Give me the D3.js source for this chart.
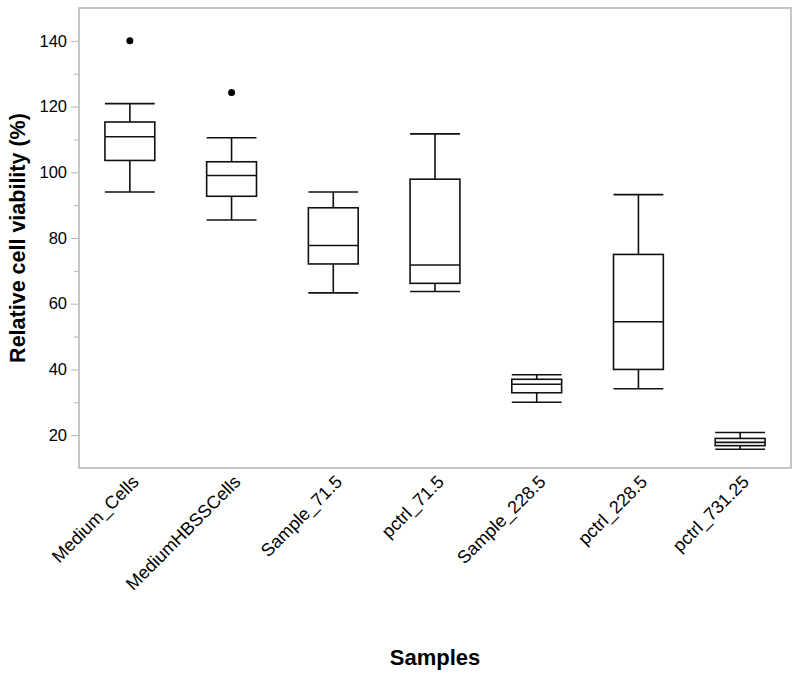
<!DOCTYPE html>
<html>
<head>
<meta charset="utf-8">
<script src="https://cdn.jsdelivr.net/npm/d3@7"></script>
<style>
  html, body { margin: 0; padding: 0; background: #fff; }
  svg { display: block; font-family: "Liberation Sans", Arial, sans-serif; }
</style>
</head>
<body>
<svg id="chart" width="800" height="677"></svg>
<script>
const categories = ["Medium_Cells", "MediumHBSSCells", "Sample_71.5", "pctrl_71.5", "Sample_228.5", "pctrl_228.5", "pctrl_731.25"];
const whiskerLow  = [94.0, 85.5, 63.3, 63.7, 30.0, 34.1, 15.7];
const q1          = [103.6, 92.7, 72.1, 66.2, 32.9, 40.0, 16.8];
const median      = [110.8, 99.0, 77.7, 71.8, 35.5, 54.5, 17.8];
const q3          = [115.3, 103.2, 89.2, 97.9, 37.0, 75.0, 19.0];
const whiskerHigh = [120.9, 110.5, 94.0, 111.7, 38.4, 93.2, 20.8];
const outliers    = [[140.0], [124.3], [], [], [], [], []];
const yTicks = [20, 40, 60, 80, 100, 120, 140];
const yMinorTicks = [30, 50, 70, 90, 110, 130];
const yDomain = [10, 150];

const svg = d3.select("#chart");
const m = { left: 79, top: 8, right: 791, bottom: 468 };

const x = d3.scaleBand().domain(categories).range([m.left, m.right]).paddingInner(0).paddingOuter(0);
const y = d3.scaleLinear().domain(yDomain).range([m.bottom, m.top]);

const data = categories.map((c, i) => ({
  c, lo: whiskerLow[i], q1: q1[i], med: median[i], q3: q3[i], hi: whiskerHigh[i], out: outliers[i]
}));

const axisColor = "#b4b4b4";

// frame
svg.append("rect")
  .attr("x", m.left).attr("y", m.top)
  .attr("width", m.right - m.left).attr("height", m.bottom - m.top)
  .attr("fill", "none").attr("stroke", axisColor).attr("stroke-width", 1.5);

// y axis
const yAxis = svg.append("g").attr("transform", `translate(${m.left},0)`)
  .call(d3.axisLeft(y).tickValues(yTicks).tickSize(8).tickPadding(4).tickFormat(d3.format("d")));
yAxis.select(".domain").remove();
yAxis.selectAll(".tick line").attr("stroke", axisColor).attr("stroke-width", 1);
yAxis.selectAll(".tick text").attr("fill", "#000").attr("font-size", 16.5)
  .attr("font-family", "'Liberation Sans', Arial, sans-serif");

const yMinor = svg.append("g").attr("transform", `translate(${m.left},0)`)
  .call(d3.axisLeft(y).tickValues(yMinorTicks).tickSize(5).tickFormat(""));
yMinor.select(".domain").remove();
yMinor.selectAll(".tick line").attr("stroke", axisColor).attr("stroke-width", 1);

// x axis labels
const xAxis = svg.append("g").attr("transform", `translate(0,${m.bottom})`)
  .call(d3.axisBottom(x).tickSize(0).tickPadding(0));
xAxis.select(".domain").remove();
xAxis.selectAll(".tick text")
  .attr("fill", "#000").attr("font-size", 18)
  .attr("font-family", "'Liberation Sans', Arial, sans-serif")
  .attr("text-anchor", "end")
  .attr("dy", null).attr("y", 0)
  .attr("transform", "translate(10,15) rotate(-45)");

// boxes
const bw = x.bandwidth() * 0.49;
const g = svg.append("g").attr("stroke", "#111").attr("stroke-width", 1.6).attr("fill", "none");
const box = g.selectAll("g.box").data(data).join("g").attr("class", "box")
  .attr("transform", d => `translate(${x(d.c) + x.bandwidth() / 2},0)`);

box.append("line").attr("x1", 0).attr("x2", 0).attr("y1", d => y(d.hi)).attr("y2", d => y(d.q3));
box.append("line").attr("x1", 0).attr("x2", 0).attr("y1", d => y(d.q1)).attr("y2", d => y(d.lo));
box.append("line").attr("x1", -bw / 2).attr("x2", bw / 2).attr("y1", d => y(d.hi)).attr("y2", d => y(d.hi));
box.append("line").attr("x1", -bw / 2).attr("x2", bw / 2).attr("y1", d => y(d.lo)).attr("y2", d => y(d.lo));
box.append("rect").attr("x", -bw / 2).attr("width", bw)
  .attr("y", d => y(d.q3)).attr("height", d => y(d.q1) - y(d.q3)).attr("fill", "#fff");
box.append("line").attr("x1", -bw / 2).attr("x2", bw / 2).attr("y1", d => y(d.med)).attr("y2", d => y(d.med));
box.selectAll("circle").data(d => d.out).join("circle")
  .attr("cx", 0).attr("cy", v => y(v)).attr("r", 3.5).attr("fill", "#000").attr("stroke", "none");

// titles
svg.append("text")
  .attr("transform", `translate(25,${(m.top + m.bottom) / 2}) rotate(-90)`)
  .attr("text-anchor", "middle").attr("font-size", 21.5).attr("font-weight", "bold")
  .attr("fill", "#000").text("Relative cell viability (%)");

svg.append("text")
  .attr("x", 435).attr("y", 665)
  .attr("text-anchor", "middle").attr("font-size", 22).attr("font-weight", "bold")
  .attr("fill", "#000").text("Samples");
</script>
</body>
</html>
